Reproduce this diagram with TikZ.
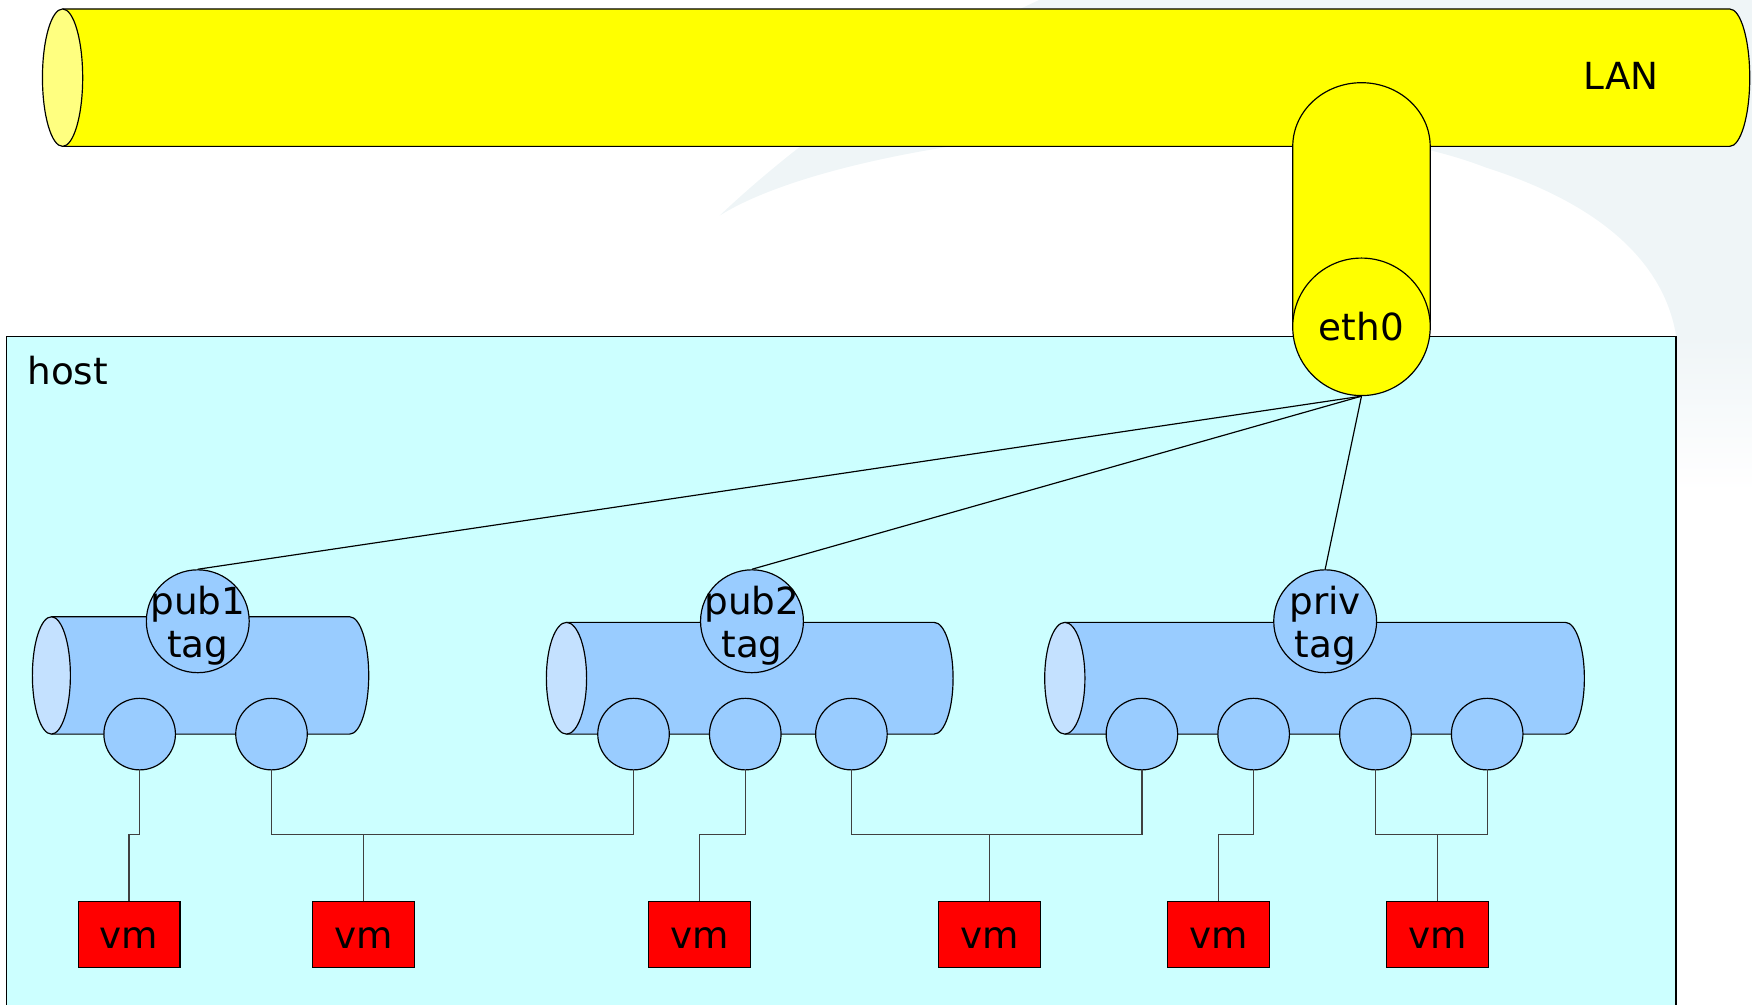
\documentclass[tikz,border=0pt]{standalone}
\usepackage{fontspec}
\setmainfont{DejaVu Sans}
\definecolor{lanyellow}{HTML}{FFFF00}
\definecolor{lanface}{HTML}{FFFF80}
\definecolor{hostcyan}{HTML}{CCFFFF}
\definecolor{brblue}{HTML}{99CCFF}
\definecolor{brface}{HTML}{C4E1FF}
\definecolor{vmred}{HTML}{FF0000}
\definecolor{swoosh}{HTML}{EFF5F7}
\definecolor{wiregray}{HTML}{404040}

\begin{document}
\begin{tikzpicture}[x=0.01cm, y=-0.01cm, line width=0.3pt,
  font=\fontsize{9.5}{11}\selectfont,
  lanbody/.style={draw, fill=lanyellow},
  lanend/.style={draw, fill=lanface},
  brbody/.style={draw, fill=brblue},
  brend/.style={draw, fill=brface},
  tag/.style={circle, draw, fill=brblue, minimum size=0.92cm, inner sep=0pt},
  tagtext/.style={align=center, yshift=-0.04cm},
  port/.style={circle, draw, fill=brblue, minimum size=0.64cm, inner sep=0pt},
  vmbox/.style={draw, fill=vmred, minimum width=0.91cm, minimum height=0.59cm, inner sep=0pt, text height=0.7em, text depth=0pt},
  link/.style={draw=black},
  wire/.style={draw=wiregray}]
\useasboundingbox (0,0) rectangle (1568,899);
\clip (0,0) rectangle (1568,899);

% faint background swoosh
\fill[swoosh] (644,193) .. controls (760,120) and (1150,80) .. (1330,150)
  .. controls (1440,185) and (1490,240) .. (1500,300) -- (1568,300)
  -- (1568,0) -- (930,0) .. controls (800,60) and (700,140) .. (644,193) -- cycle;
\shade[top color=swoosh, bottom color=white] (1500,299) rectangle (1568,440);

% LAN and the eth0 stub
\path[lanbody] (56,8) -- (1548,8) arc (-90:90:18 and 61.5) -- (56,131);
\path[lanend] (56,69.5) ellipse [x radius=18, y radius=61.5];
\node (lan) at (1451,68) {LAN};
\path[lanbody] (1157,292.5) -- (1157,131) arc (180:360:61.5 and 57) -- (1280,292.5);

% host
\draw[fill=hostcyan] (6,301) rectangle (1500,910);
\node[anchor=west, inner sep=0pt] (hostlabel) at (24,332) {host};
\node[circle, draw, fill=lanyellow, minimum size=1.23cm, inner sep=0pt] (eth0) at (1218.5,292.5) {eth0};

% bridges with their tag and ports
\path[brbody] (46,552) -- (313,552) arc (-90:90:17 and 52.5) -- (46,657);
\path[brend] (46,604.5) ellipse [x radius=17, y radius=52.5];
\node[tag, label={[tagtext]center:pub1\\tag}] (pub1) at (177,556) {};
\node[port] (p11) at (125,657) {};
\node[port] (p12) at (243,657) {};

\path[brbody] (507,557) -- (836,557) arc (-90:90:17 and 50) -- (507,657);
\path[brend] (507,607) ellipse [x radius=18, y radius=50];
\node[tag, label={[tagtext]center:pub2\\tag}] (pub2) at (673,556) {};
\node[port] (p21) at (567,657) {};
\node[port] (p22) at (667,657) {};
\node[port] (p23) at (762,657) {};

\path[brbody] (953,557) -- (1401,557) arc (-90:90:17 and 50) -- (953,657);
\path[brend] (953,607) ellipse [x radius=18, y radius=50];
\node[tag, label={[tagtext]center:priv\\tag}] (priv) at (1186,556) {};
\node[port] (p31) at (1022,657) {};
\node[port] (p32) at (1122,657) {};
\node[port] (p33) at (1231,657) {};
\node[port] (p34) at (1331,657) {};

\draw[link] (eth0.south) -- (pub1.north);
\draw[link] (eth0.south) -- (pub2.north);
\draw[link] (eth0.south) -- (priv.north);

% vms
\node[vmbox] (vm1) at (115.5,836.5) {vm};
\node[vmbox] (vm2) at (325.5,836.5) {vm};
\node[vmbox] (vm3) at (626,836.5) {vm};
\node[vmbox] (vm4) at (885.5,836.5) {vm};
\node[vmbox] (vm5) at (1090.5,836.5) {vm};
\node[vmbox] (vm6) at (1286.5,836.5) {vm};

\coordinate (bus) at (0,747);
\draw[wire] (p11.south) -- (p11 |- bus) -| (vm1.north);
\draw[wire] (p12.south) |- (p21 |- bus) -- (p21.south);
\draw[wire] (vm2.north) -- (vm2 |- bus);
\draw[wire] (p22.south) -- (p22 |- bus) -| (vm3.north);
\draw[wire] (p23.south) |- (p31 |- bus) -- (p31.south);
\draw[wire] (vm4.north) -- (vm4 |- bus);
\draw[wire] (p32.south) -- (p32 |- bus) -| (vm5.north);
\draw[wire] (p33.south) |- (p34 |- bus) -- (p34.south);
\draw[wire] (vm6.north) -- (vm6 |- bus);
\end{tikzpicture}
\end{document}
